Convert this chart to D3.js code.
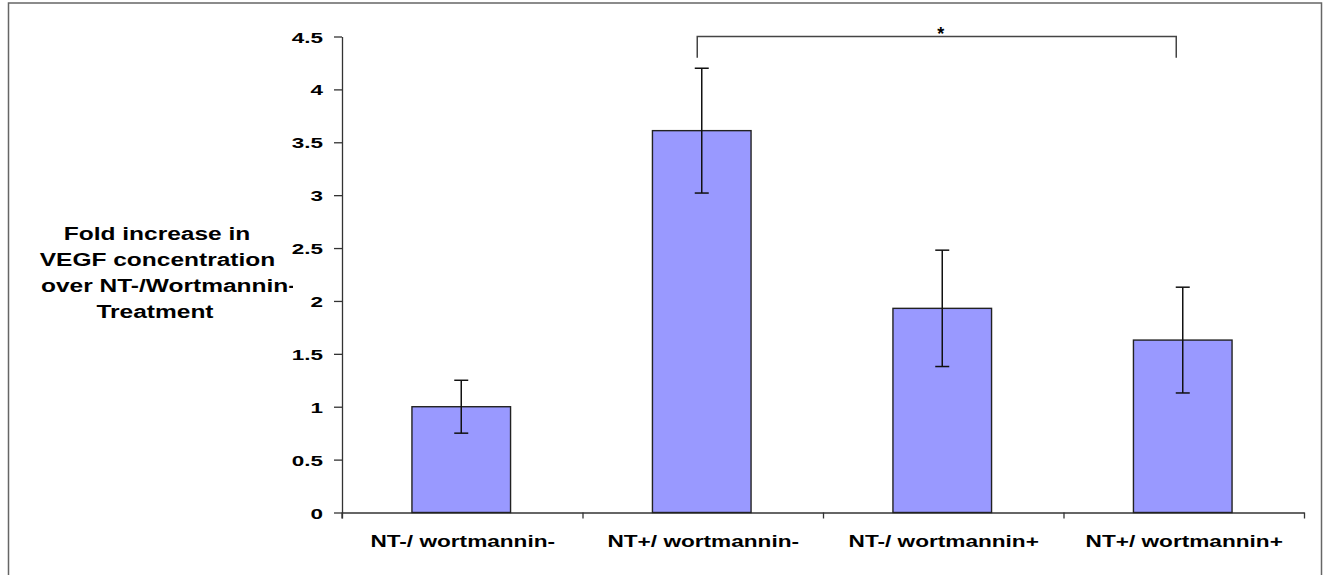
<!DOCTYPE html>
<html>
<head>
<meta charset="utf-8">
<script src="https://cdn.jsdelivr.net/npm/d3@7"></script>
<style>
  body { margin: 0; background: #fff; }
  svg { display: block; }
  text { font-family: "Liberation Sans", Arial, sans-serif; font-weight: bold; fill: #000; }
</style>
</head>
<body>
<svg id="chart" width="1327" height="575"></svg>
<script>
// Treatment groups on the x axis
const categories = ["NT-/ wortmannin-", "NT+/ wortmannin-", "NT-/ wortmannin+", "NT+/ wortmannin+"];
// Mean fold increase in VEGF concentration
const foldIncrease = [1.0, 3.61, 1.93, 1.63];
// Error bar half-lengths (symmetric)
const errorHalf = [0.25, 0.59, 0.55, 0.50];
// Y axis ticks
const yTickValues = [0, 0.5, 1, 1.5, 2, 2.5, 3, 3.5, 4, 4.5];
const yTickLabels = ["0", "0.5", "1", "1.5", "2", "2.5", "3", "3.5", "4", "4.5"];
// Y axis title, one entry per line
const yTitleLines = ["Fold increase in", "VEGF concentration", "over NT-/Wortmannin-", "Treatment"];
// Significance bracket between two groups
const bracketGroups = ["NT+/ wortmannin-", "NT+/ wortmannin+"];
const bracketLevels = [4.5, 4.3];   // top of bracket, end of its legs
const bracketLabel = "*";

const svg = d3.select("#chart");

const plot = { left: 342, right: 1304, top: 36.5, bottom: 512.5 };

const y = d3.scaleLinear().domain([0, 4.5]).range([plot.bottom, plot.top]);
const x = d3.scaleBand().domain(categories).range([plot.left, plot.right]).padding(0);
const edge = d3.scaleLinear().domain([0, categories.length]).range([plot.left, plot.right]);
const barW = x.bandwidth() * 0.41;
const center = c => x(c) + x.bandwidth() / 2 - 1;

// Widen glyphs horizontally by factor k (the chart's lettering is set wide)
function widen(sel, k) {
  sel.each(function () {
    const len = this.getComputedTextLength();
    d3.select(this).attr("textLength", len * k).attr("lengthAdjust", "spacingAndGlyphs");
  });
}

// Outer frame
svg.append("rect")
  .attr("x", 8.5).attr("y", 3).attr("width", 1313).attr("height", 620)
  .attr("fill", "none").attr("stroke", "#666").attr("stroke-width", 1.5);

// Y axis
const yAxis = svg.append("g")
  .attr("transform", `translate(${plot.left},0)`)
  .call(d3.axisLeft(y)
    .tickValues(yTickValues)
    .tickFormat((d, i) => yTickLabels[i])
    .tickSize(8).tickSizeOuter(0).tickPadding(11));
yAxis.select(".domain").attr("stroke", "#333").attr("stroke-width", 1.3);
yAxis.selectAll(".tick line").attr("stroke", "#333").attr("stroke-width", 1.3);
yAxis.selectAll(".tick text")
  .attr("font-size", 15.5)
  .attr("font-family", null)
  .attr("dy", "0.36em")
  .call(widen, 1.45);
// axis line continues a little below zero
svg.append("line")
  .attr("x1", plot.left).attr("x2", plot.left)
  .attr("y1", y(0)).attr("y2", y(0) + 6)
  .attr("stroke", "#333").attr("stroke-width", 1.3);

// X axis line with ticks at the group boundaries
const xAxis = svg.append("g")
  .attr("transform", `translate(0,${plot.bottom})`)
  .call(d3.axisBottom(edge)
    .tickValues(d3.range(categories.length + 1))
    .tickFormat("")
    .tickSize(6).tickSizeOuter(0));
xAxis.select(".domain").attr("stroke", "#333").attr("stroke-width", 1.3);
xAxis.selectAll(".tick line").attr("stroke", "#333").attr("stroke-width", 1.3);

// Category labels
svg.append("g")
  .selectAll("text")
  .data(categories)
  .join("text")
  .attr("x", d => center(d) + 1.5)
  .attr("y", 546.5)
  .attr("text-anchor", "middle")
  .attr("font-size", 17)
  .text(d => d)
  .call(widen, 1.33);

// Bars
svg.append("g")
  .selectAll("rect")
  .data(categories)
  .join("rect")
  .attr("x", d => center(d) - barW / 2)
  .attr("y", (d, i) => y(foldIncrease[i]))
  .attr("width", barW)
  .attr("height", (d, i) => y(0) - y(foldIncrease[i]))
  .attr("fill", "#9999FF")
  .attr("stroke", "#222")
  .attr("stroke-width", 1.4);

// Error bars
const capW = 14;
const eb = svg.append("g").attr("stroke", "#111").attr("stroke-width", 1.5).attr("fill", "none");
categories.forEach((c, i) => {
  const cx = center(c);
  const hi = y(foldIncrease[i] + errorHalf[i]);
  const lo = y(foldIncrease[i] - errorHalf[i]);
  eb.append("line").attr("x1", cx).attr("x2", cx).attr("y1", hi).attr("y2", lo);
  eb.append("line").attr("x1", cx - capW / 2).attr("x2", cx + capW / 2).attr("y1", hi).attr("y2", hi);
  eb.append("line").attr("x1", cx - capW / 2).attr("x2", cx + capW / 2).attr("y1", lo).attr("y2", lo);
});

// Significance bracket
const bx1 = center(bracketGroups[0]) - 4.5;
const bx2 = center(bracketGroups[1]) - 6.5;
svg.append("path")
  .attr("d", `M${bx1},${y(bracketLevels[1])}V${y(bracketLevels[0])}H${bx2}V${y(bracketLevels[1])}`)
  .attr("fill", "none").attr("stroke", "#444").attr("stroke-width", 1.5);
svg.append("text")
  .attr("x", (bx1 + bx2) / 2 + 4)
  .attr("y", y(bracketLevels[0]) + 3.5)
  .attr("text-anchor", "middle")
  .attr("font-size", 18)
  .text(bracketLabel);

// Y axis title (wrapped; the long line runs past its box and is clipped)
svg.append("clipPath").attr("id", "titleClip")
  .append("rect").attr("x", 20).attr("y", 200).attr("width", 273).attr("height", 140);
const titleX = [157, 157.5, 41, 155];
const titleAnchor = ["middle", "middle", "start", "middle"];
const titleBase = [240, 266, 292.2, 318.4];
svg.append("g")
  .attr("clip-path", "url(#titleClip)")
  .selectAll("text")
  .data(yTitleLines)
  .join("text")
  .attr("x", (d, i) => titleX[i])
  .attr("y", (d, i) => titleBase[i])
  .attr("text-anchor", (d, i) => titleAnchor[i])
  .attr("font-size", 17.5)
  .text(d => d)
  .call(widen, 1.4);
</script>
</body>
</html>
